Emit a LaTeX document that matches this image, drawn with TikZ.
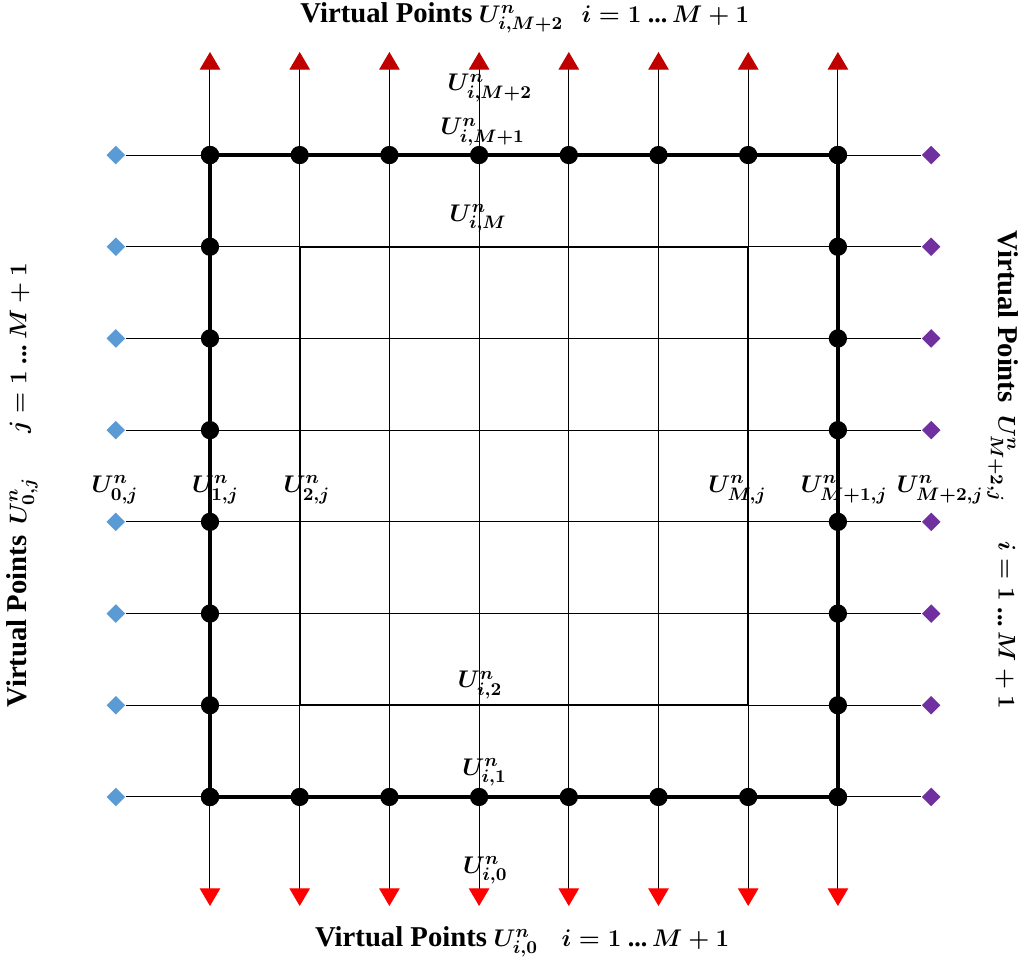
\documentclass[tikz,border=0pt]{standalone}
\usepackage{amsmath}
\usepackage{fontspec}
\setmainfont{Liberation Serif}
\usetikzlibrary{positioning, arrows.meta, shapes.geometric}

\definecolor{vblue}{RGB}{91,155,213}
\definecolor{vpurple}{RGB}{112,48,160}
\definecolor{topred}{RGB}{192,0,0}
\definecolor{botred}{RGB}{255,0,0}

\newcommand{\vpts}{{\fontsize{14.3}{16}\selectfont Virtual Points}}
\newcommand{\irange}[1]{$#1 = 1\ \text{...}\,M + 1$}

\begin{document}
\begin{tikzpicture}[x=1.57cm, y=1.605cm, font=\fontsize{12.5}{15}\selectfont\bfseries\boldmath]
	
	% styles
	\tikzset{
		gridline/.style = {line width=0.5pt},
		vertex/.style = {circle, fill, inner sep=0pt, minimum size=0.32cm},
		ghost/.style = {diamond, fill=#1, inner sep=0pt, minimum size=0.33cm},
		upred/.style = {-{Triangle[color=topred, width=0.36cm, length=0.31cm]}},
		downred/.style = {-{Triangle[color=botred, width=0.36cm, length=0.31cm]}},
		title/.style = {font=\fontsize{13}{15}\selectfont\bfseries\boldmath}
	}
	
	% parameters
	\def \N {8}
	\def \topy {9.124}
	\def \boty {-0.189}
	
	\useasboundingbox (-1.341,-0.821) rectangle (10.108,9.691);
	
	% grid points
	\foreach \i in {1,...,\N} {
		\foreach \j in {1,...,\N} {
			\coordinate (g-\i-\j) at (\i,\j);
		}
		\coordinate (t-\i) at (\i,\topy);
		\coordinate (b-\i) at (\i,\boty);
	}
	
	% virtual points left / right
	\foreach \j in {1,...,\N} {
		\node[ghost=vblue] (l-\j) at (-0.05,\j) {};
		\node[ghost=vpurple] (r-\j) at (9.04,\j) {};
	}
	
	% grid lines
	\foreach \j in {1,...,\N}
		\draw[gridline] (l-\j) -- (r-\j);
	\foreach \i in {1,...,\N} {
		\draw[gridline] (g-\i-1) -- (g-\i-\N);
		\draw[gridline, upred] (g-\i-\N) -- (t-\i);
		\draw[gridline, downred] (g-\i-1) -- (b-\i);
	}
	
	% boundaries
	\draw[line width=2pt] (g-1-1) rectangle (g-8-8);
	\draw[line width=0.9pt] (g-2-2) rectangle (g-7-7);
	
	% boundary points
	\foreach \k in {1,...,\N} {
		\node[vertex] (dt-\k) at (g-\k-8) {};
		\node[vertex] (db-\k) at (g-\k-1) {};
		\node[vertex] (dl-\k) at (g-1-\k) {};
		\node[vertex] (dr-\k) at (g-8-\k) {};
	}
	
	% labels
	\node (uiM2) at (4.12,8.73) {$U^n_{i,M+2}$};
	\node (uiM1) at (4.04,8.25) {$U^n_{i,M+1}$};
	\node (uiM) at (3.99,7.31) {$U^n_{i,M}$};
	\node (u0j) at (-0.06,4.35) {$U^n_{0,j}$};
	\node (u1j) at (1.06,4.35) {$U^n_{1,j}$};
	\node (u2j) at (2.08,4.35) {$U^n_{2,j}$};
	\node (uMj) at (6.88,4.35) {$U^n_{M,j}$};
	\node (uM1j) at (8.07,4.35) {$U^n_{M+1,j}$};
	\node (uM2j) at (9.14,4.35) {$U^n_{M+2,j}$};
	\node (ui2) at (4.01,2.22) {$U^n_{i,2}$};
	\node (ui1) at (4.06,1.27) {$U^n_{i,1}$};
	\node (ui0) at (4.07,0.20) {$U^n_{i,0}$};
	
	% titles
	\node[title] (toptitle) at (4.51,9.495) {\vpts{} $U^n_{i,M+2}$\hspace{0.7em}\irange{i}};
	\node[title] (bottitle) at (4.48,-0.581) {\vpts{} $U^n_{i,0}$\hspace{0.9em}\irange{i}};
	\node[title, rotate=90] (lefttitle) at (-1.096,4.40) {\vpts\ \,$U^n_{0,j}$\hspace{1.7em}\irange{j}};
	\node[title, rotate=-90] (righttitle) at (9.84,4.566) {\vpts\ \ $U^n_{M+2,j}$\hspace{1.5em}\irange{i}};
	
\end{tikzpicture}
\end{document}
